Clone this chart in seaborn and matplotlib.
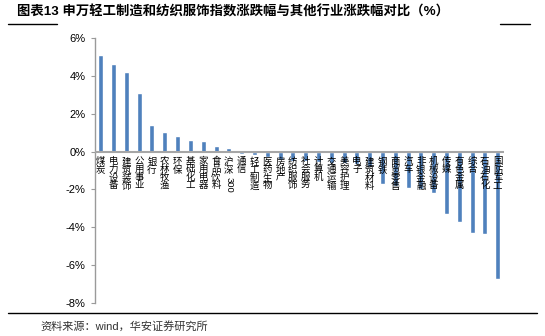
import matplotlib
matplotlib.use("Agg")
import matplotlib.pyplot as plt
import seaborn as sns
import pandas as pd
from matplotlib.lines import Line2D
from matplotlib.ticker import FuncFormatter, MultipleLocator

# 申万一级行业及沪深300 区间涨跌幅（%）
industries = ["煤炭", "电力设备", "建筑装饰", "公用事业", "银行", "农林牧渔", "环保",
              "基础化工", "家用电器", "食品饮料", "沪深300", "通信", "轻工制造", "医药生物",
              "房地产", "纺织服饰", "社会服务", "计算机", "交通运输", "美容护理", "电子",
              "建筑材料", "钢铁", "商贸零售", "汽车", "非银金融", "机械设备", "传媒",
              "有色金属", "综合", "石油石化", "国防军工"]
changes = [5.10, 4.62, 4.20, 3.12, 1.42, 1.06, 0.81, 0.60, 0.56, 0.30, 0.18, -0.15,
           -0.18, -0.28, -0.45, -0.48, -0.50, -0.55, -0.60, -0.62, -0.65, -0.80, -1.70,
           -1.80, -1.90, -2.00, -2.20, -3.28, -3.72, -4.32, -4.38, -6.72]
y_ticks = [6, 4, 2, 0, -2, -4, -6, -8]

title = "图表13 申万轻工制造和纺织服饰指数涨跌幅与其他行业涨跌幅对比（%）"
source = "资料来源：wind，华安证券研究所"

sns.set_style("white")
plt.rcParams["font.family"] = ["Liberation Sans", "Noto Sans CJK SC", "DejaVu Sans"]

df = pd.DataFrame({"industry": industries, "change": changes})

fig = plt.figure(figsize=(5.45, 3.36), dpi=100)
ax = fig.add_axes([95 / 545, 1 - 303 / 336, (503.5 - 95) / 545, (303 - 38) / 336])

sns.barplot(data=df, x="industry", y="change", order=industries, color="#4F81BD",
            saturation=1, width=0.39, ax=ax)

n = len(industries)
ax.set_xlim(-0.45, n - 0.55)
ax.set_ylim(min(y_ticks), max(y_ticks))
ax.yaxis.set_major_locator(MultipleLocator(2))
ax.yaxis.set_major_formatter(FuncFormatter(lambda v, _: f"{v:.0f}%"))
ax.set_xlabel("")
ax.set_ylabel("")
ax.set_xticks([])
ax.tick_params(axis="y", labelsize=8, length=3, color="#9A9A9A", pad=4,
               labelcolor="black", left=True)

for side in ["top", "right", "bottom"]:
    ax.spines[side].set_visible(False)
ax.spines["left"].set_color("#9A9A9A")
ax.spines["left"].set_linewidth(1.0)
ax.axhline(0, color="#A6A6A6", lw=1.5, zorder=3)

# 竖排类目标签，紧贴零轴下方
char_pt = 6.8
line_sp = 0.86
for i, name in enumerate(industries):
    cjk = "".join(c for c in name if not c.isascii())
    asc = "".join(c for c in name if c.isascii())
    ax.annotate("\n".join(cjk), xy=(i, 0), xytext=(0, -4), textcoords="offset points",
                ha="center", va="top", fontsize=char_pt, linespacing=line_sp,
                family=["Noto Sans CJK SC"], color="black", zorder=4)
    if asc:
        ax.annotate(asc, xy=(i, 0), xytext=(0, -4.5 - len(cjk) * char_pt * 1.02),
                    textcoords="offset points", ha="center", va="top", rotation=-90,
                    fontsize=char_pt, color="black", zorder=4)

# 标题与装饰线
fig.text(17 / 545, 1 - 12 / 336, title, ha="left", va="center", fontsize=9.6,
         fontweight="bold", color="black")
fig.add_artist(Line2D([8 / 545, 57 / 545], [1 - 23.5 / 336] * 2, color="black", lw=1.0))
fig.add_artist(Line2D([500 / 545, 530 / 545], [1 - 23.5 / 336] * 2, color="black", lw=1.0))

# 底部资料来源
fig.add_artist(Line2D([8 / 545, 537 / 545], [1 - 313 / 336] * 2, color="black", lw=1.0))
fig.text(40 / 545, 1 - 326 / 336, source, ha="left", va="center", fontsize=8,
         color="#333333")

fig.savefig("out.png", dpi=100)
